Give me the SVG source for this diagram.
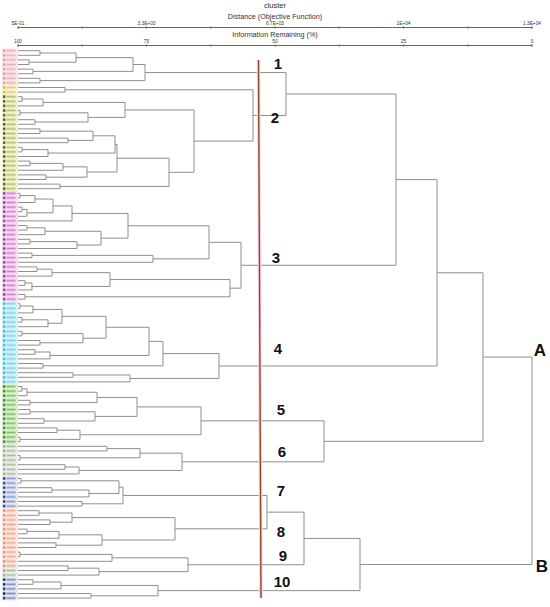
<svg xmlns="http://www.w3.org/2000/svg" width="550" height="607" viewBox="0 0 550 607">
<style>
.ln{fill:none;stroke:#8f8f8f;stroke-width:1}
.ax{fill:none;stroke:#555;stroke-width:0.9}
.at{font-family:"Liberation Sans",Arial,sans-serif;fill:#333;text-anchor:middle}
.cl{font-family:"Liberation Sans",Arial,sans-serif;font-weight:bold;fill:#111;text-anchor:middle}
</style>
<defs>
<pattern id="p1" x="2" y="48.4" width="16" height="4.6" patternUnits="userSpaceOnUse"><rect width="16" height="4.6" fill="#fbe3ea"/><rect x="1" y="1.1" width="2.4" height="2.4" fill="#e89a9a"/><rect x="4.5" y="1.5" width="9" height="1.6" fill="#eab0b0"/></pattern>
<pattern id="p2a" x="2" y="48.4" width="16" height="4.6" patternUnits="userSpaceOnUse"><rect width="16" height="4.6" fill="#fbf1c4"/><rect x="1" y="1.1" width="2.4" height="2.4" fill="#d8b850"/><rect x="4.5" y="1.5" width="9" height="1.6" fill="#e0cc80"/></pattern>
<pattern id="p2" x="2" y="48.4" width="16" height="4.6" patternUnits="userSpaceOnUse"><rect width="16" height="4.6" fill="#f1f2c6"/><rect x="1" y="1.1" width="2.4" height="2.4" fill="#4a5a1a"/><rect x="4.5" y="1.5" width="9" height="1.6" fill="#b8b870"/></pattern>
<pattern id="p3" x="2" y="48.4" width="16" height="4.6" patternUnits="userSpaceOnUse"><rect width="16" height="4.6" fill="#f8d8f4"/><rect x="1" y="1.1" width="2.4" height="2.4" fill="#8a3aa0"/><rect x="4.5" y="1.5" width="9" height="1.6" fill="#c880c8"/></pattern>
<pattern id="p4" x="2" y="48.4" width="16" height="4.6" patternUnits="userSpaceOnUse"><rect width="16" height="4.6" fill="#d0f2fa"/><rect x="1" y="1.1" width="2.4" height="2.4" fill="#40b8d8"/><rect x="4.5" y="1.5" width="9" height="1.6" fill="#80d0e8"/></pattern>
<pattern id="p5" x="2" y="48.4" width="16" height="4.6" patternUnits="userSpaceOnUse"><rect width="16" height="4.6" fill="#d8f0c8"/><rect x="1" y="1.1" width="2.4" height="2.4" fill="#2f8a2f"/><rect x="4.5" y="1.5" width="9" height="1.6" fill="#80b870"/></pattern>
<pattern id="p6" x="2" y="48.4" width="16" height="4.6" patternUnits="userSpaceOnUse"><rect width="16" height="4.6" fill="#eaeee2"/><rect x="1" y="1.1" width="2.4" height="2.4" fill="#9aaa90"/><rect x="4.5" y="1.5" width="9" height="1.6" fill="#a8b8a0"/></pattern>
<pattern id="p7" x="2" y="48.4" width="16" height="4.6" patternUnits="userSpaceOnUse"><rect width="16" height="4.6" fill="#e0e6f6"/><rect x="1" y="1.1" width="2.4" height="2.4" fill="#2a3a8a"/><rect x="4.5" y="1.5" width="9" height="1.6" fill="#8898c8"/></pattern>
<pattern id="p8" x="2" y="48.4" width="16" height="4.6" patternUnits="userSpaceOnUse"><rect width="16" height="4.6" fill="#fde6dc"/><rect x="1" y="1.1" width="2.4" height="2.4" fill="#e09070"/><rect x="4.5" y="1.5" width="9" height="1.6" fill="#e8a890"/></pattern>
<pattern id="p10" x="2" y="48.4" width="16" height="4.6" patternUnits="userSpaceOnUse"><rect width="16" height="4.6" fill="#dfe6f4"/><rect x="1" y="1.1" width="2.4" height="2.4" fill="#1a2a60"/><rect x="4.5" y="1.5" width="9" height="1.6" fill="#7888b8"/></pattern>
</defs>
<rect width="550" height="607" fill="#ffffff"/>

<g id="axes">
<text class="at" x="275" y="8" font-size="7.5">cluster</text>
<text class="at" x="275" y="18.5" font-size="7.2">Distance (Objective Function)</text>
<text class="at" x="18" y="25" font-size="4.8">5E-01</text>
<text class="at" x="146.5" y="25" font-size="4.8">3.3E+03</text>
<text class="at" x="275" y="25" font-size="4.8">6.7E+03</text>
<text class="at" x="403.5" y="25" font-size="4.8">1E+04</text>
<text class="at" x="532" y="25" font-size="4.8">1.3E+04</text>
<path class="ax" d="M18 27.5H532M18 26V29M82.25 26.5V28.5M146.5 26.5V28.5M210.75 26.5V28.5M275 26.5V28.5M339.25 26.5V28.5M403.5 26.5V28.5M467.75 26.5V28.5M532 26V29"/>
<text class="at" x="275" y="36.5" font-size="7.2">Information Remaining (%)</text>
<text class="at" x="18" y="42.5" font-size="4.8">100</text>
<text class="at" x="146.5" y="42.5" font-size="4.8">75</text>
<text class="at" x="275" y="42.5" font-size="4.8">50</text>
<text class="at" x="403.5" y="42.5" font-size="4.8">25</text>
<text class="at" x="532" y="42.5" font-size="4.8">0</text>
<path class="ax" d="M18 45.5H532M18 44V47M82.25 44.5V46.5M146.5 44.5V46.5M210.75 44.5V46.5M275 44.5V46.5M339.25 44.5V46.5M403.5 44.5V46.5M467.75 44.5V46.5M532 44V47"/>
</g>

<g id="leaves">
<rect x="2" y="48.4" width="16" height="36.8" fill="url(#p1)"/>
<rect x="2" y="85.2" width="16" height="9.2" fill="url(#p2a)"/>
<rect x="2" y="94.4" width="16" height="96.6" fill="url(#p2)"/>
<rect x="2" y="191" width="16" height="110.4" fill="url(#p3)"/>
<rect x="2" y="301.4" width="16" height="82.8" fill="url(#p4)"/>
<rect x="2" y="384.2" width="16" height="59.8" fill="url(#p5)"/>
<rect x="2" y="444" width="16" height="32.2" fill="url(#p6)"/>
<rect x="2" y="476.2" width="16" height="32.2" fill="url(#p7)"/>
<rect x="2" y="508.4" width="16" height="41.4" fill="url(#p8)"/>
<rect x="2" y="549.8" width="16" height="18.4" fill="url(#p8)"/>
<rect x="2" y="568.2" width="16" height="9.2" fill="url(#p6)"/>
<rect x="2" y="577.4" width="16" height="23" fill="url(#p10)"/>
</g>

<g id="connectors">
<path class="ln" d="M18 50.7H40V55.3H18M18 59.9H29V64.5H18M40 53H76V62.2H29M18 69.1H33V73.7H18M76 57.6H133V71.4H33M18 78.3H40V82.9H18M133 64.5H145V80.6H40"/>
<path class="ln" d="M18 87.5H65V92.1H18M18 96.7H22V101.3H18M22 99H43V105.9H18M18 110.5H20V115.1H18M18 119.7H35V124.3H18M20 112.8H88V122H35M43 102.45H125V117.4H88M18 128.9H40V133.5H18M18 138.1H68V142.7H18M40 131.2H93V140.4H68M18 147.3H22V151.9H18M22 149.6H48V156.5H18M93 135.8H115V153.05H48M18 161.1H30V165.7H18M30 163.4H63V170.3H18M18 174.9H46V179.5H18M63 166.85H87V177.2H46M115 144.43H117V172.03H87M18 184.1H60V188.7H18M117 158.23H169V186.4H60M125 109.93H194V172.31H169M65 89.8H253V141.12H194M145 72.55H286V115.46H253"/>
<path class="ln" d="M18 193.3H20V197.9H18M20 195.6H35V202.5H18M18 207.1H22V211.7H18M22 209.4H27V216.3H18M35 199.05H53V212.85H27M53 205.95H72V220.9H18M18 225.5H27V230.1H18M27 227.8H45V234.7H18M18 239.3H30V243.9H18M30 241.6H77V248.5H18M45 231.25H101V245.05H77M72 213.43H128V238.15H101M18 253.1H32V257.7H18M32 255.4H153V262.3H18M128 225.79H209V258.85H153M18 266.9H37V271.5H18M37 269.2H52V276.1H18M18 280.7H25V285.3H18M25 283H32V289.9H18M52 272.65H110V286.45H32M18 294.5H25V299.1H18M110 279.55H230V296.8H25M209 242.32H241V288.18H230M286 94H396V265.25H241"/>
<path class="ln" d="M18 303.7H20V308.3H18M20 306H33V312.9H18M18 317.5H22V322.1H18M22 319.8H48V326.7H18M33 309.45H62V323.25H48M18 331.3H22V335.9H18M18 340.5H40V345.1H18M22 333.6H83V342.8H40M62 316.35H106V338.2H83M18 349.7H35V354.3H18M35 352H50V358.9H18M106 327.28H149V355.45H50M18 363.5H43V368.1H18M149 341.36H163V365.8H43M18 372.7H73V377.3H18M73 375H130V381.9H18M163 353.58H219V378.45H130M396 179.6H437V366H219"/>
<path class="ln" d="M18 386.5H22V391.1H18M22 388.8H27V395.7H18M18 400.3H30V404.9H18M27 392.25H97V402.6H30M18 409.5H30V414.1H18M18 418.7H44V423.3H18M30 411.8H95V421H44M97 397.43H137V416.4H95M18 427.9H57V432.5H18M18 437.1H20V441.7H18M57 430.2H80V439.4H20M137 406.91H201V434.8H80"/>
<path class="ln" d="M18 446.3H107V450.9H18M18 455.5H20V460.1H18M107 448.6H140V457.8H20M18 464.7H65V469.3H18M65 467H79V473.9H18M140 453.2H182V470.45H79M201 420.86H324V461.83H182M437 272.8H483V441.34H324"/>
<path class="ln" d="M18 478.5H21V483.1H18M18 487.7H52V492.3H18M52 490H89V496.9H18M21 480.8H119V493.45H89M18 501.5H82V506.1H18M119 487.13H123V503.8H82"/>
<path class="ln" d="M18 510.7H39V515.3H18M18 519.9H50V524.5H18M39 513H72V522.2H50M18 529.1H27V533.7H18M27 531.4H59V538.3H18M18 542.9H56V547.5H18M59 534.85H102V545.2H56M72 517.6H175V540.03H102M123 495.46H267V528.81H175"/>
<path class="ln" d="M18 552.1H20V556.7H18M20 554.4H112V561.3H18M18 565.9H68V570.5H18M68 568.2H99V575.1H18M112 557.85H188V571.65H99M267 512.14H304V564.75H188"/>
<path class="ln" d="M18 579.7H33V584.3H18M33 582H61V588.9H18M18 593.5H91V598.1H18M61 585.45H158V595.8H91M304 538.44H360V590.63H158M483 357.07H532V564.53H360"/>
</g>

<g id="cut-line">
<line x1="258.5" y1="60" x2="261" y2="598" stroke="#f7d6e3" stroke-width="3.5"/>
<line x1="258.5" y1="60" x2="261" y2="598" stroke="#8e4a2c" stroke-width="1.4"/>
</g>

<g id="cluster-1"><text class="cl" x="278" y="69" font-size="15">1</text></g>
<g id="cluster-2"><text class="cl" x="275" y="123" font-size="15">2</text></g>
<g id="cluster-3"><text class="cl" x="276" y="263" font-size="15">3</text></g>
<g id="cluster-4"><text class="cl" x="278" y="354" font-size="15">4</text></g>
<g id="cluster-5"><text class="cl" x="281" y="415" font-size="15">5</text></g>
<g id="cluster-6"><text class="cl" x="282" y="457" font-size="15">6</text></g>
<g id="cluster-7"><text class="cl" x="281" y="496" font-size="15">7</text></g>
<g id="cluster-8"><text class="cl" x="281" y="537" font-size="15">8</text></g>
<g id="cluster-9"><text class="cl" x="283" y="561" font-size="15">9</text></g>
<g id="cluster-10"><text class="cl" x="282" y="587" font-size="15">10</text></g>
<g id="group-A"><text class="cl" x="540" y="356" font-size="17">A</text></g>
<g id="group-B"><text class="cl" x="542" y="572" font-size="17">B</text></g>
</svg>
